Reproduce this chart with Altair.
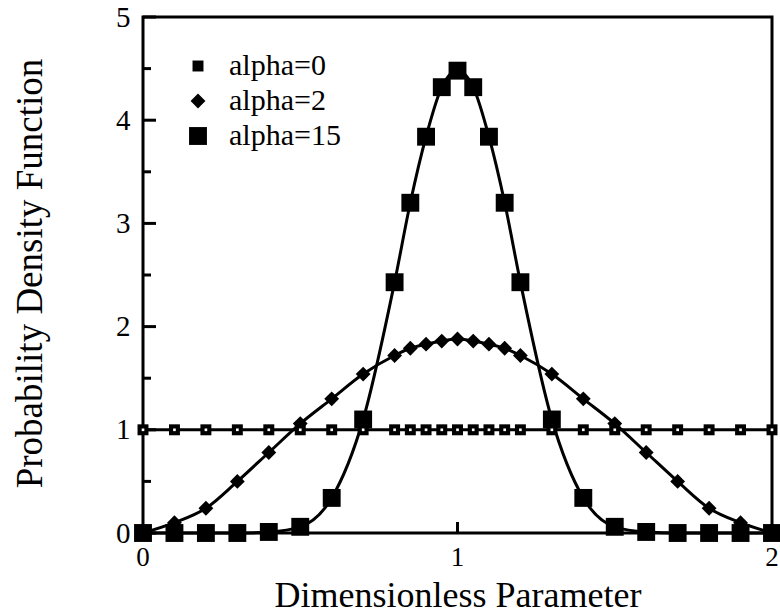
import altair as alt
import pandas as pd

# ---- data ----
x_vals = [0.0, 0.1, 0.2, 0.3, 0.4, 0.5, 0.6, 0.7, 0.8, 0.85, 0.9, 0.95, 1.0,
          1.05, 1.1, 1.15, 1.2, 1.3, 1.4, 1.5, 1.6, 1.7, 1.8, 1.9, 2.0]
alpha0 = [1.0] * 25
alpha2 = [0.0, 0.1, 0.24, 0.5, 0.78, 1.06, 1.3, 1.54, 1.72, 1.79, 1.83, 1.86, 1.88,
          1.86, 1.83, 1.79, 1.72, 1.54, 1.3, 1.06, 0.78, 0.5, 0.24, 0.1, 0.0]
alpha15 = [0.0, 0.0, 0.0, 0.0, 0.01, 0.06, 0.34, 1.1, 2.43, 3.2, 3.84, 4.32, 4.48,
           4.32, 3.84, 3.2, 2.43, 1.1, 0.34, 0.06, 0.01, 0.0, 0.0, 0.0, 0.0]
series_names = ["alpha=0", "alpha=2", "alpha=15"]

y_major = [0, 1, 2, 3, 4, 5]
y_minor = [0.5, 1.5, 2.5, 3.5, 4.5]
x_labels = [0, 1, 2]
x_ticks = [1]

rows = []
for name, vals in zip(series_names, [alpha0, alpha2, alpha15]):
    for xv, yv in zip(x_vals, vals):
        rows.append({"x": xv, "y": yv, "series": name})
df = pd.DataFrame(rows)

W, H = 629, 516
FONT = "Liberation Serif"
XT = "Dimensionless Parameter"
YT = "Probability Density Function"

xscale = alt.Scale(domain=[0, 2], nice=False, zero=False)
yscale = alt.Scale(domain=[0, 5], nice=False, zero=False)

xaxis = alt.Axis(values=x_labels, labels=False, ticks=False, domain=False, grid=False,
                 title=XT, titleFont=FONT, titleFontSize=36,
                 titleFontWeight="normal", titleColor="black", titleY=73,
                 titleBaseline="alphabetic", titleX=W / 2, titleAlign="center")
yaxis = alt.Axis(values=y_major, format="d", ticks=False, domain=False, grid=False,
                 labelFontSize=29, labelFont=FONT, labelColor="black", labelPadding=13,
                 labelBaseline="middle",
                 title=YT, titleFont=FONT, titleFontSize=37,
                 titleFontWeight="normal", titleColor="black", titleAngle=270,
                 titleX=-102, titleY=H / 2 - 2, titleAlign="center",
                 titleBaseline="alphabetic")

base = alt.Chart(df)

lines = base.mark_line(interpolate="monotone", color="black", strokeWidth=3).encode(
    x=alt.X("x:Q", scale=xscale, axis=xaxis, title=XT),
    y=alt.Y("y:Q", scale=yscale, axis=yaxis, title=YT),
    detail="series:N",
)

legend = alt.Legend(title=None, orient="none", legendX=40, legendY=34,
                    labelFont=FONT, labelFontSize=30, labelColor="black",
                    labelOffset=16, rowPadding=5, labelBaseline="middle")

points = base.mark_point(filled=True, opacity=1).encode(
    x=alt.X("x:Q", scale=xscale, axis=xaxis, title=XT),
    y=alt.Y("y:Q", scale=yscale, axis=yaxis, title=YT),
    shape=alt.Shape("series:N", sort=series_names,
                    scale=alt.Scale(domain=series_names, range=["square", "diamond", "square"]),
                    legend=legend),
    fill=alt.Fill("series:N", sort=series_names,
                  scale=alt.Scale(domain=series_names, range=["black", "black", "black"]),
                  legend=legend),
    size=alt.Size("series:N", sort=series_names,
                  scale=alt.Scale(domain=series_names, range=[120, 320, 170]),
                  legend=legend),
)

# white centre of the "open" squares of alpha=0
holes = alt.Chart(df[df["series"] == "alpha=0"]).mark_point(
    filled=True, shape="square", color="white", size=7, opacity=1).encode(
    x=alt.X("x:Q", scale=xscale, axis=xaxis, title=XT),
    y=alt.Y("y:Q", scale=yscale, axis=yaxis, title=YT),
)

# inward ticks
ymaj = alt.Chart(pd.DataFrame({"v": y_major})).mark_rule(color="black", strokeWidth=3).encode(
    y=alt.Y("v:Q", scale=yscale, axis=yaxis, title=YT),
    x=alt.value(0), x2=alt.value(13))
ymin = alt.Chart(pd.DataFrame({"v": y_minor})).mark_rule(color="black", strokeWidth=3).encode(
    y=alt.Y("v:Q", scale=yscale, axis=yaxis, title=YT),
    x=alt.value(0), x2=alt.value(8))
xt = alt.Chart(pd.DataFrame({"v": x_ticks})).mark_rule(color="black", strokeWidth=3).encode(
    x=alt.X("v:Q", scale=xscale, axis=xaxis, title=XT),
    y=alt.value(H), y2=alt.value(H - 11))

# x tick labels
xlab = alt.Chart(pd.DataFrame({"v": x_labels})).mark_text(
    font=FONT, fontSize=27, baseline="top", align="center", color="black").encode(
    x=alt.X("v:Q", scale=xscale, axis=xaxis, title=XT),
    y=alt.value(H + 12),
    text=alt.Text("v:Q", format="d"),
)

chart = alt.layer(lines, ymaj, ymin, xt, points, holes, xlab).properties(
    width=W, height=H,
    autosize=alt.AutoSizeParams(type="none"),
    padding={"left": 143, "top": 17, "right": 8, "bottom": 82},
    background="white",
).configure_view(stroke="black", strokeWidth=3)

chart.save("out.html", embed_options={"renderer": "svg", "actions": False})
